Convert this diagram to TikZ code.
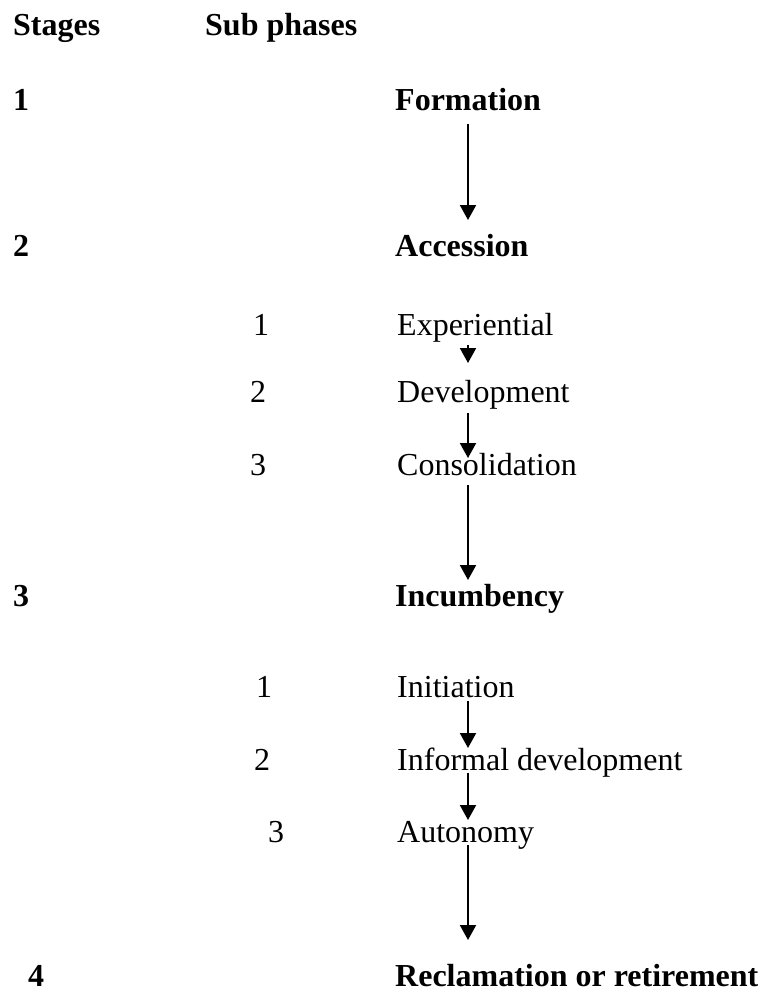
\documentclass[tikz,border=0pt]{standalone}
\usepackage{fontspec}
\setmainfont{Liberation Serif}
\usetikzlibrary{arrows.meta, positioning}
\tikzset{
  stage/.style={anchor=base west, inner sep=0pt, font=\fontsize{32}{36}\selectfont\bfseries},
  phase/.style={anchor=base west, inner sep=0pt, font=\fontsize{32}{36}\selectfont},
  arr/.style={-{Triangle[length=15pt, width=16pt]}, line width=2pt},
}
\begin{document}
\begin{tikzpicture}[x=1pt, y=-1pt]
  \useasboundingbox (0,0) rectangle (763,994);

  % Column headings
  \node[stage] (hstage) at (13,35) {Stages};
  \node[stage] (hsub) at (205,35) {Sub phases};

  % Stage 1
  \node[stage] (n1) at (13,110) {1};
  \node[stage] (formation) at (395,110) {Formation};

  % Stage 2 and its sub phases
  \node[stage] (n2) at (13,256) {2};
  \node[stage] (accession) at (395,256) {Accession};
  \node[phase] (a1) at (253,335) {1};
  \node[phase] (experiential) at (397,335) {Experiential};
  \node[phase] (a2) at (250,402) {2};
  \node[phase] (development) at (397,402) {Development};
  \node[phase] (a3) at (250,475) {3};
  \node[phase] (consolidation) at (397,475) {Consolidation};

  % Stage 3 and its sub phases
  \node[stage] (n3) at (13,606) {3};
  \node[stage] (incumbency) at (395,606) {Incumbency};
  \node[phase] (i1) at (256,697) {1};
  \node[phase] (initiation) at (397,697) {Initiation};
  \node[phase] (i2) at (254,770) {2};
  \node[phase] (informal) at (397,770) {Informal development};
  \node[phase] (i3) at (268,842) {3};
  \node[phase] (autonomy) at (397,842) {Autonomy};

  % Stage 4
  \node[stage] (n4) at (28,986) {4};
  \node[stage] (reclamation) at (395,986) {Reclamation or retirement};

  % Arrow ends
  \coordinate (f1) at (468,124);  \coordinate (t1) at (468,220);
  \coordinate (f2) at (468,345);  \coordinate (t2) at (468,363);
  \coordinate (f3) at (468,413);  \coordinate (t3) at (468,458);
  \coordinate (f4) at (468,485);  \coordinate (t4) at (468,580);
  \coordinate (f5) at (468,701);  \coordinate (t5) at (468,748);
  \coordinate (f6) at (468,773);  \coordinate (t6) at (468,820);
  \coordinate (f7) at (468,845);  \coordinate (t7) at (468,940);

  % Arrows
  \foreach \i in {1,...,7}
    \draw[arr] (f\i) -- (t\i);
\end{tikzpicture}
\end{document}
